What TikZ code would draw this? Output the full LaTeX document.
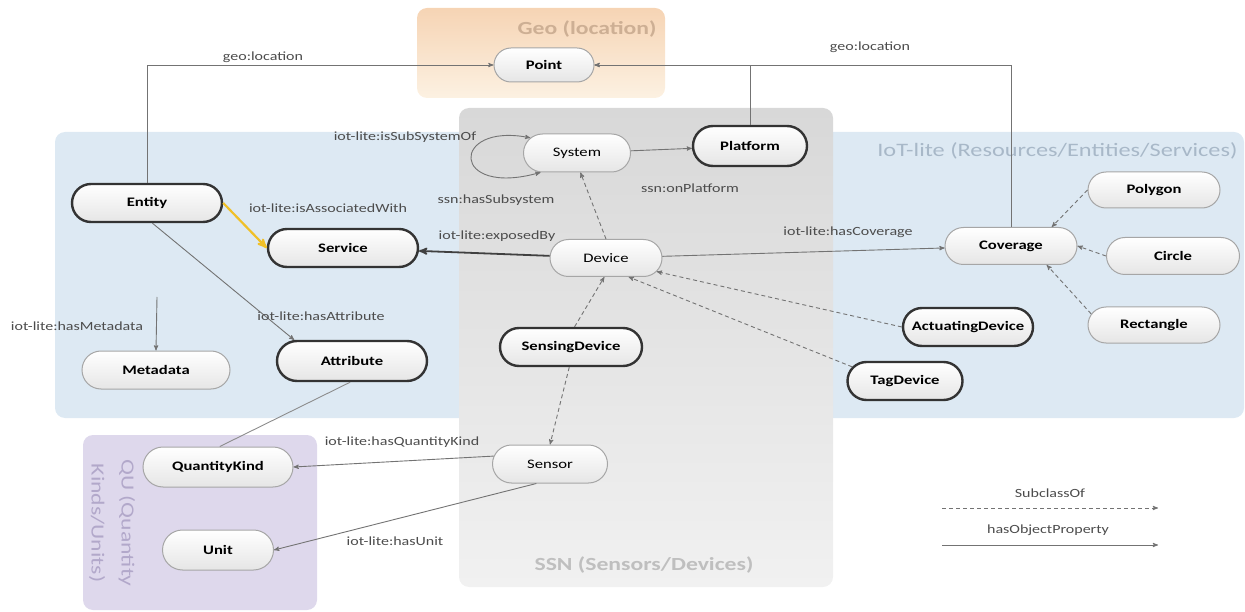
\documentclass[tikz,border=0pt]{standalone}
\usepackage{fontspec}
\setmainfont{Carlito}[FakeStretch=1.28]
\usetikzlibrary{shapes}
\usetikzlibrary{arrows}
\definecolor{iotblue}{RGB}{221,233,243}
\definecolor{ssntop}{RGB}{216,216,216}
\definecolor{ssnbot}{RGB}{241,241,241}
\definecolor{geotop}{RGB}{246,212,180}
\definecolor{geobot}{RGB}{252,241,226}
\definecolor{qulilac}{RGB}{222,216,236}
\definecolor{assocyel}{RGB}{240,192,40}
\tikzset{
	clsnode/.style = {rounded rectangle, align=center, inner sep=0pt, text centered,
		top color=white, bottom color=black!10, minimum height=38pt,
		font=\fontsize{13}{15}\selectfont},
	cls_b/.style = {clsnode, draw=black!80, line width=2.4pt,
		font=\bfseries\fontsize{13}{15}\selectfont},% classe iot-lite, bord epais
	cls_t/.style = {clsnode, draw=black!35, line width=1pt,
		font=\bfseries\fontsize{13}{15}\selectfont},% classe, bord fin
	cls_s/.style = {clsnode, draw=black!35, line width=1pt},% classe ssn, texte normal
	zone/.style = {rounded corners=10pt},
	zonetitle/.style = {font=\fontsize{19}{24}\selectfont, align=center},
	lbl/.style = {font=\fontsize{12.5}{14}\selectfont, text=black!70, inner sep=1pt},
	prop/.style = {->, draw=black!55, line width=0.9pt},% hasObjectProperty
	subc/.style = {->, draw=black!55, line width=0.9pt, dash pattern=on 4pt off 3pt}% SubclassOf
}
\begin{document}
\begin{tikzpicture}[x=1pt, y=-1pt, >=stealth']
\useasboundingbox (0,0) rectangle (1245,612);
% zones
\path[zone, fill=iotblue] (55,132) rectangle (1244,418);
\path[zone, top color=ssntop, bottom color=ssnbot] (459,108) rectangle (833,587);
\path[zone, top color=geotop, bottom color=geobot] (417,8) rectangle (665,98);
\path[zone, fill=qulilac] (83,435) rectangle (317,610);
\node[zonetitle, font=\bfseries\fontsize{18.5}{24}\selectfont, text={rgb,255:red,205;green,175;blue,148}] (t_geo) at (587,29) {Geo (location)};
\node[zonetitle, anchor=east, text={rgb,255:red,168;green,184;blue,200}] (t_iot) at (1241,151) {IoT-lite (Resources/Entities/Services)};
\node[zonetitle, font=\bfseries\fontsize{18.5}{24}\selectfont, text=black!25] (t_ssn) at (644,565) {SSN (Sensors/Devices)};
\node[zonetitle, rotate=-90, font=\fontsize{18.5}{30}\selectfont, text={rgb,255:red,178;green,168;blue,202}] (t_qu) at (112,523) {QU (Quantity\\Kinds/Units)};

% classes
\node[cls_t, minimum width=100pt, minimum height=34pt] (Point) at (544,65) {Point};
\node[cls_s, minimum width=107pt] (System) at (577,153) {System};
\node[cls_b, minimum width=114pt, minimum height=40pt] (Platform) at (750,146) {Platform};
\node[cls_b, minimum width=150pt] (Entity) at (147,203) {Entity};
\node[cls_b, minimum width=150pt] (Service) at (343,248) {Service};
\node[cls_t, minimum width=148pt] (Metadata) at (156,370) {Metadata};
\node[cls_b, minimum width=150pt, minimum height=40pt] (Attribute) at (352,361) {Attribute};
\node[cls_s, minimum width=112pt, minimum height=37pt] (Device) at (606,258) {Device};
\node[cls_b, minimum width=142pt] (SensingDevice) at (571,347) {SensingDevice};
\node[cls_s, minimum width=115pt] (Sensor) at (550,464) {Sensor};
\node[cls_t, minimum width=132pt, minimum height=37pt] (Coverage) at (1011,246) {Coverage};
\node[cls_t, minimum width=132pt, minimum height=36pt] (Polygon) at (1154,190) {Polygon};
\node[cls_t, minimum width=133pt, minimum height=37pt] (Circle) at (1173,256) {Circle};
\node[cls_t, minimum width=132pt, minimum height=36pt] (Rectangle) at (1154,325) {Rectangle};
\node[cls_b, minimum width=130pt] (ActuatingDevice) at (968,327) {ActuatingDevice};
\node[cls_b, minimum width=115pt] (TagDevice) at (905,381) {TagDevice};
\node[cls_t, minimum width=150pt, minimum height=40pt] (QuantityKind) at (218,467) {QuantityKind};
\node[cls_t, minimum width=111pt, minimum height=40pt] (Unit) at (218,550) {Unit};

% proprietes
\draw[prop] (Entity.north) |- (Point.west);
\draw[prop] (Coverage.north) |- (Point.east);
\draw[prop] (Platform.north) |- (Point.east);
\draw[prop] (System) -- (Platform);
\draw[prop, <->] (System.162) .. controls (450,122) and (450,198) .. (System.208);
\draw[prop, line width=1.8pt, draw=black!75] (Device) -- (Service);
\draw[prop] (Device) -- (Coverage);
\draw[prop, line width=2.2pt, draw=assocyel] (Entity.east) -- (Service.west);
\draw[prop] (Entity.-75) -- (Attribute.160);
\coordinate (md_in) at (157,297);
\draw[prop] (md_in) -- (Metadata.north);
\draw[draw=black!45, line width=0.9pt] (Attribute.-95) -- (QuantityKind.85);
\draw[prop] (Sensor.172) -- (QuantityKind.east);
\draw[prop] (Sensor.-125) -- (Unit.east);

% sous-classes
\draw[subc] (Device.north) -- (System.-80);
\draw[subc] (SensingDevice.80) -- (Device.-95);
\draw[subc] (SensingDevice.-95) -- (Sensor.north);
\draw[subc] (ActuatingDevice.west) -- (Device.-15);
\draw[subc] (TagDevice.165) -- (Device.-40);
\draw[subc] (Polygon.west) -- (Coverage.25);
\draw[subc] (Circle.west) -- (Coverage.east);
\draw[subc] (Rectangle.170) -- (Coverage.-28);

% etiquettes
\node[lbl] (l_geo1) at (263,57) {geo:location};
\node[lbl] (l_geo2) at (870,47) {geo:location};
\node[lbl] (l_subof) at (405,137) {iot-lite:isSubSystemOf};
\node[lbl] (l_hassub) at (496,200) {ssn:hasSubsystem};
\node[lbl] (l_onplat) at (690,188) {ssn:onPlatform};
\node[lbl] (l_assoc) at (328,208) {iot-lite:isAssociatedWith};
\node[lbl] (l_expo) at (497,236) {iot-lite:exposedBy};
\node[lbl] (l_cov) at (848,232) {iot-lite:hasCoverage};
\node[lbl] (l_attr) at (321,316) {iot-lite:hasAttribute};
\node[lbl] (l_meta) at (77,326) {iot-lite:hasMetadata};
\node[lbl] (l_qk) at (402,442) {iot-lite:hasQuantityKind};
\node[lbl] (l_unit) at (395,541) {iot-lite:hasUnit};

% legende
\coordinate (lg_sa) at (942,508);
\coordinate (lg_sb) at (1158,508);
\coordinate (lg_pa) at (942,545);
\coordinate (lg_pb) at (1158,545);
\draw[subc] (lg_sa) -- (lg_sb);
\draw[prop] (lg_pa) -- (lg_pb);
\node[lbl] (l_lgs) at (1050,493) {SubclassOf};
\node[lbl] (l_lgp) at (1048,530) {hasObjectProperty};
\end{tikzpicture}
\end{document}
